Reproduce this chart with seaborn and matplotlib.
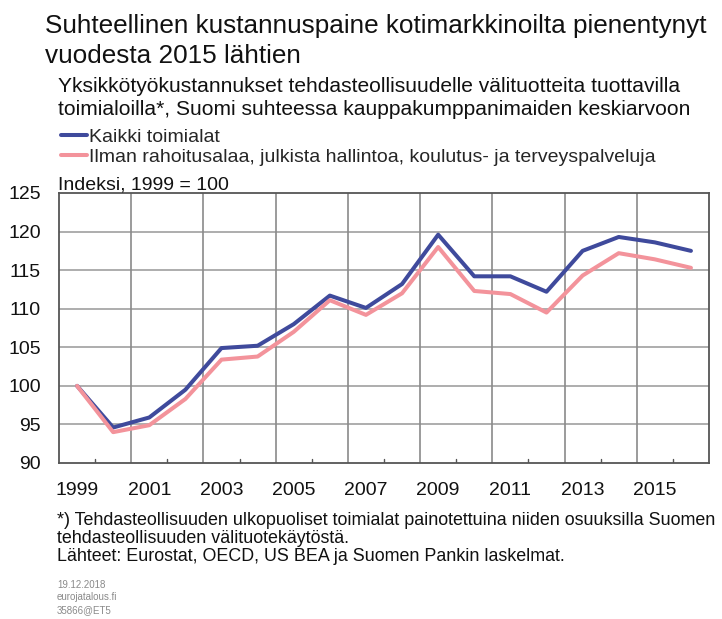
import matplotlib
matplotlib.use("Agg")
import matplotlib.pyplot as plt
import seaborn as sns
import pandas as pd

# data
years = list(range(1999, 2017))
kaikki = [100.0, 94.6, 95.9, 99.5, 104.9, 105.2, 108.0, 111.7, 110.1, 113.2,
          119.6, 114.2, 114.2, 112.2, 117.5, 119.3, 118.6, 117.5]
ilman = [100.0, 94.0, 94.9, 98.3, 103.4, 103.8, 107.0, 111.1, 109.2, 112.0,
         118.0, 112.3, 111.9, 109.5, 114.3, 117.2, 116.4, 115.3]
series_names = ["Kaikki toimialat",
                "Ilman rahoitusalaa, julkista hallintoa, koulutus- ja terveyspalveluja"]
colors = ["#3f4a9c", "#f3939b"]
year_labels = [str(y) for y in range(1999, 2016, 2)]

title_lines = ["Suhteellinen kustannuspaine kotimarkkinoilta pienentynyt",
               "vuodesta 2015 lähtien"]
subtitle_lines = ["Yksikkötyökustannukset tehdasteollisuudelle välituotteita tuottavilla",
                  "toimialoilla*, Suomi suhteessa kauppakumppanimaiden keskiarvoon"]
unit = "Indeksi, 1999 = 100"
footnote_lines = ["*) Tehdasteollisuuden ulkopuoliset toimialat painotettuina niiden osuuksilla Suomen",
                  "tehdasteollisuuden välituotekäytöstä.",
                  "Lähteet: Eurostat, OECD, US BEA ja Suomen Pankin laskelmat."]
stamp = "19.12.2018\neurojatalous.fi\n35866@ET5"

df = pd.DataFrame({
    "vuosi": years * 2,
    "arvo": kaikki + ilman,
    "sarja": [series_names[0]] * len(years) + [series_names[1]] * len(years),
})

sns.set_style("white")
plt.rcParams["font.family"] = ["Liberation Sans", "DejaVu Sans"]

W, H = 722, 619
fig = plt.figure(figsize=(W / 100, H / 100), dpi=100)
ax = fig.add_axes([59 / W, 1 - 463 / H, 650 / W, 270 / H])

sns.lineplot(data=df, x="vuosi", y="arvo", hue="sarja", palette=colors,
             hue_order=series_names, linewidth=2.9, ax=ax, legend=False, zorder=3)

ax.set_xlim(1998.5, 2016.5)
ax.set_ylim(90, 125)
ax.set_yticks(range(90, 126, 5))
ax.set_xticks(range(1999, 2016, 2))
ax.set_xticklabels(year_labels)
ax.set_xlabel("")
ax.set_ylabel("")
ax.tick_params(axis="both", length=0, labelsize=14, colors="#111111")
ax.tick_params(axis="y", pad=13)
ax.tick_params(axis="x", pad=14)

# gridlines
for v in range(95, 125, 5):
    ax.axhline(v, color="#a0a0a0", lw=1.2, zorder=1)
for x in [y + 0.5 for y in range(2000, 2015, 2)]:
    ax.axvline(x, color="#8a8a8a", lw=1.2, zorder=1)
# small ticks at bottom
for x in [y + 0.5 for y in range(1999, 2016, 2)]:
    ax.plot([x, x], [90, 90.55], color="#555555", lw=1.0, zorder=2)

for s in ax.spines.values():
    s.set_color("#555555")
    s.set_linewidth(1.3)

def line_text(x, y, s, size, **kw):
    fig.text(x / W, 1 - y / H, s, va="baseline", ha="left", fontsize=size,
             color=kw.pop("color", "#111111"), **kw)

for s, y in zip(title_lines, [33, 63]):
    line_text(45, y, s, 18.8)
for s, y in zip(subtitle_lines, [92, 115]):
    line_text(58, y, s, 15.1)

handles = [plt.Line2D([], [], color=c, lw=2.9) for c in colors]
fig.legend(handles, series_names, loc="upper left",
           bbox_to_anchor=(61 / W, 1 - 128 / H), frameon=False,
           fontsize=14, handlelength=1.35, handletextpad=0.1,
           labelspacing=0.15, borderpad=0, borderaxespad=0)

line_text(58, 190, unit, 14)
for s, y in zip(footnote_lines, [525, 543, 561]):
    line_text(57, y, s, 12.9)
fig.text(57 / W, 1 - 580 / H, stamp, va="top", ha="left", fontsize=7,
         linespacing=1.3, color="#8a8a8a")

fig.savefig("out.png", dpi=100)
